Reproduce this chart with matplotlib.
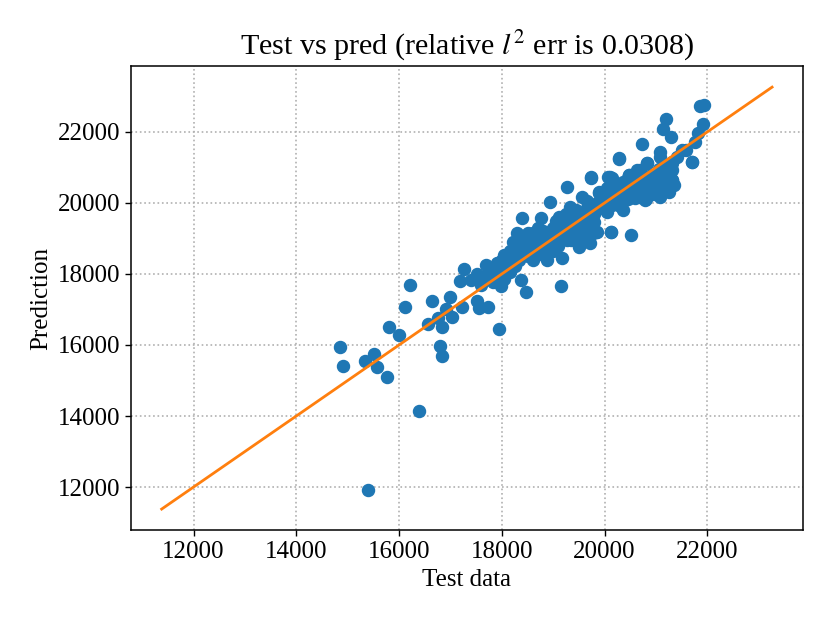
import numpy as np
import matplotlib
matplotlib.use("Agg")
import matplotlib.pyplot as plt

# test data (x) vs prediction (y)
test_x = [
    14860, 14900, 15330, 15510, 15570, 15770, 15400, 15810, 15990, 16220,
    16125, 16380, 16650, 17000, 17270, 16790, 16830, 16570, 16750, 16840,
    17040, 17230, 16920, 17510, 17560, 17740, 17950, 17180, 17410, 17510,
    17700, 17820, 17990, 17910, 18150, 18250,
    18400, 18770, 19120, 18930, 19320, 18300, 18210, 17920, 17700, 18050,
    18380, 18480, 19160, 19180, 18870, 18540, 18600, 19510, 19770, 19860,
    20130, 19700, 19510, 19260, 18990, 18730, 18340, 18150, 17950, 19380,
    19060, 19320,
    20290, 19740, 20060, 20150, 20480, 20680, 20830, 21070, 21320, 21320,
    21710, 21070, 21070, 20680, 20350, 20040, 19900, 19570, 19650, 19840,
    20350, 20780, 20130, 20520, 19840, 19710, 19570, 21010,
    21850, 21940, 21200, 21130, 21300, 20720, 20290, 21910, 21810, 21750,
    21590, 21710, 21320, 21320, 21070, 20830, 20640, 20480, 19740, 20100,
    19260, 21070, 21320, 20870,
    18100, 18200, 18300, 18350, 18400, 18450, 18500, 18550, 18600, 18650,
    18700, 18750, 18800, 18850, 18900, 18950, 19000, 19050, 19100, 19150,
    19200, 19250, 19300, 19350, 19400, 19450, 19500, 19550, 19600, 19650,
    19700, 19750, 19800, 19850, 19900, 19950, 20000, 20050, 20100, 20150,
    20200, 20250, 20300, 20350, 20400, 20450, 20500, 20550, 20600, 20700,
    20750, 20800, 20850, 20900, 20950, 21000, 21050, 21100, 21150, 21250,
    18050, 18150, 18250, 18500, 18600, 18700, 18850, 19000, 19050, 19150,
    19250, 19400, 19450, 19600, 19650, 19800, 19900, 20050, 20150, 20300,
    20450, 20600, 20650, 20800, 20950, 21050, 21150, 21200, 21250, 21350,
    21300, 21400, 21500,
    17600, 17800, 17900, 18000, 17700, 18050, 18150,
]
pred_y = [
    15930, 15420, 15540, 15740, 15380, 15100, 11920, 16520, 16290, 17700,
    17080, 14130, 17225, 17365, 18150, 15960, 15680, 16600, 16770, 16520,
    16800, 17080, 17000, 17225, 17050, 17080, 16460, 17790, 17840, 18010,
    17900, 17760, 17650, 18320, 18490, 18210,
    19580, 19580, 19610, 20030, 19890, 19160, 18910, 18320, 17930, 18545,
    17840, 17500, 17650, 18460, 18400, 18690, 19160, 18770, 19160, 19190,
    19190, 19470, 19250, 18970, 18770, 18970, 18400, 18210, 18070, 19160,
    19300, 19530,
    21270, 20710, 20740, 20710, 20790, 20930, 21130, 21300, 21130, 20650,
    21160, 20600, 20170, 20170, 20450, 20430, 20290, 20170, 19870, 19810,
    19810, 20090, 19190, 19110, 19190, 18880, 19050, 20740,
    22730, 22760, 22370, 22080, 21860, 21660, 21240, 22220, 21970, 21720,
    21490, 21160, 21160, 20650, 21440, 21130, 20930, 20790, 20740, 20740,
    20450, 20850, 20930, 20650,
    18300, 18600, 18450, 18800, 18650, 19000, 18500, 18850, 18700, 19050,
    18550, 18900, 19200, 18650, 19050, 18850, 19300, 19000, 18800, 19200,
    19450, 19050, 19250, 18950, 19400, 19150, 19600, 19350, 19500, 19750,
    19600, 19900, 19700, 20000, 19850, 20150, 20000, 20300, 20100, 19950,
    20250, 20450, 20150, 20600, 20350, 20100, 20500, 20300, 20650, 20450,
    20250, 20550, 20350, 20800, 20600, 20450, 20950, 20700, 20900, 20800,
    18150, 18650, 18900, 19150, 18400, 19300, 18500, 18650, 19500, 18950,
    19700, 18950, 19800, 19200, 20050, 19450, 20300, 19750, 20500, 19900,
    20700, 20150, 20850, 20100, 20250, 20350, 20550, 21050, 20300, 20500,
    21000, 21300, 21500,
    17700, 18100, 17950, 18400, 18250, 17850, 18050,
]
# y = x reference line ends
line_ends = [11380, 23260]

plt.rcParams["font.family"] = "serif"
plt.rcParams["font.serif"] = ["Liberation Serif", "DejaVu Serif"]
plt.rcParams["mathtext.fontset"] = "stix"
plt.rcParams["font.size"] = 18

fig = plt.figure(figsize=(8.3, 6.23), dpi=100)
ax = fig.add_axes([0.158, 0.149, 0.809, 0.745])
ax.scatter(test_x, pred_y, s=75, color="#1f77b4", zorder=2)
ax.plot(line_ends, line_ends, color="#ff7f0e", lw=2, zorder=3)
ax.set_title("Test vs pred (relative $l^2$ err is 0.0308)", fontsize=21.6, pad=8)
ax.set_xlabel("Test data")
ax.set_ylabel("Prediction")
ax.set_xticks(np.arange(12000, 22001, 2000))
ax.set_yticks(np.arange(12000, 22001, 2000))
ax.tick_params(length=4.5, width=1.0)
ax.grid(True, linestyle=":", color="#b0b0b0", lw=1.2, zorder=0)
ax.set_axisbelow(True)
for sp in ax.spines.values():
    sp.set_linewidth(1.1)
fig.savefig("out.png", dpi=100)
